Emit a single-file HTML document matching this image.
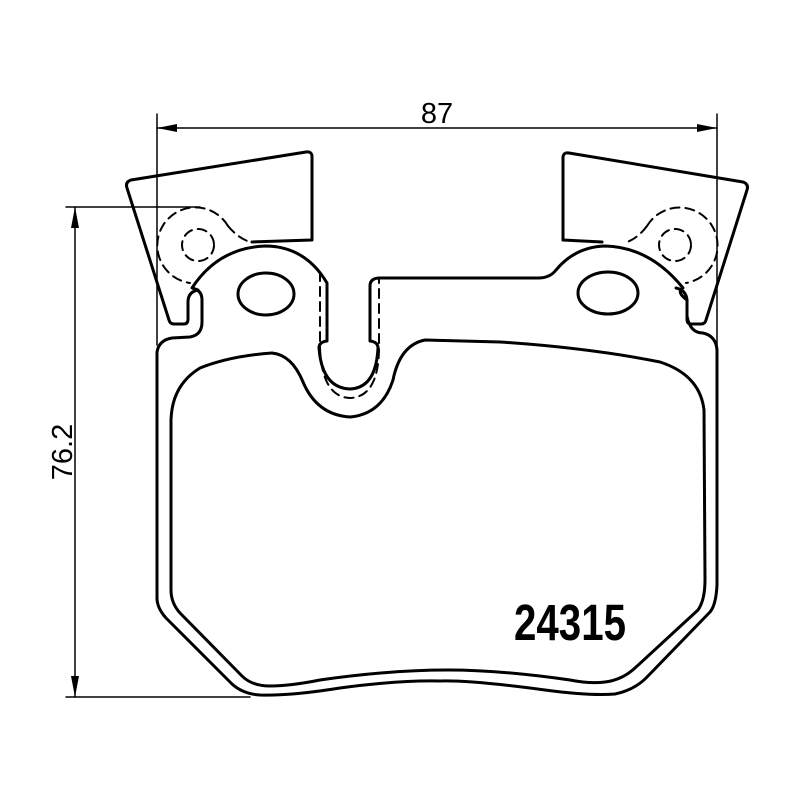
<!DOCTYPE html>
<html><head><meta charset="utf-8"><style>
html,body{margin:0;padding:0;background:#fff;}
svg{display:block;}
</style></head><body>
<svg width="800" height="800" viewBox="0 0 800 800" xmlns="http://www.w3.org/2000/svg">
<g fill="none" stroke="#000" stroke-linecap="round" stroke-linejoin="round">
<!-- dimension lines -->
<g stroke-width="1.5">
<line x1="157" y1="114" x2="157" y2="345"/>
<line x1="717" y1="114" x2="717" y2="345"/>
<line x1="157" y1="128" x2="717" y2="128"/>
<line x1="66" y1="207" x2="200" y2="207"/>
<line x1="66" y1="697" x2="250" y2="697"/>
<line x1="75" y1="207" x2="75" y2="697"/>
</g>
<!-- left tab -->
<path stroke-width="3" d="M312,240 L252,242 M312,240 L312,157 Q312,151 306,152 L131,180 Q125,182 127,188 L169,320 Q170,324 174,324 L184,324 Q188,324 188,319 L188,302 Q188,292 198,290"/>
<!-- right tab -->
<path stroke-width="3" d="M563,240 L602,242 M563,240 L563,158 Q563,152 569,153 L743,182 Q749,184 747,190 L706,320 Q705,324 701,324 L691,324 Q687,324 687,319 L687,300 Q686,290 676,288"/>
<!-- backing plate outer -->
<path stroke-width="3" d="M157,600 L157,352 Q159,340 172,338 L190,337 Q202,335 202,322 L202,300 Q202,290 192,288
 Q218,248 265,246 Q305,246 327,283 L327,341 Q319,342 319,348 Q322,388 350,389 Q376,388 378,348 Q378,342 370,341 L370,286 Q370,278 380,278 L538,278 Q550,278 556,270 Q575,247 605,246 Q650,247 683,288
 Q676,292 687,300 L687,316 Q690,333 703,333 Q716,336 717,350 L717,585 Q716,605 710,612 L648,676 Q635,690 615,694 Q590,696 545,690 Q470,680 440,681 Q400,680 340,688 Q290,696 260,695 Q243,694 232,684 L166,618 Q157,608 157,598 Z"/>
<!-- friction inner -->
<path stroke-width="3" d="M171,420 Q172,385 200,368 Q230,356 272,353 Q292,355 303,382 Q317,415 350,417 Q382,414 393,380 Q400,345 425,340 L500,342 Q590,348 660,362 Q700,375 704,410 L705,580 Q705,600 698,610 L635,668 Q622,680 605,682 Q590,684 570,680 Q500,670 448,670 Q390,670 320,680 Q290,686 270,686 Q252,686 242,676 L180,613 Q171,603 171,590 Z"/>
<!-- holes -->
<ellipse stroke-width="3" cx="266" cy="294" rx="28" ry="21"/>
<ellipse stroke-width="3" cx="608" cy="293" rx="30" ry="21"/>
<!-- dashed -->
<g stroke-width="2" stroke-dasharray="9,6">
<path d="M228,226 A38,38 0 1 0 190,283"/>
<path d="M228,226 Q238,238 250,242"/>
<circle cx="198" cy="245" r="16"/>
<path d="M647,226 A38,38 0 1 1 686,283"/>
<path d="M647,226 Q638,238 627,242"/>
<circle cx="675" cy="245" r="16"/>
<path d="M320,272 L320,348 Q322,397 350,398 Q378,397 379,350 L379,280"/>
</g>
</g>
<!-- arrowheads -->
<g fill="#000">
<polygon points="157,128 177,124 177,132"/>
<polygon points="717,128 697,124 697,132"/>
<polygon points="75,207 71,228 79,228"/>
<polygon points="75,697 71,676 79,676"/>
</g>
<text x="437" y="123" font-family="Liberation Sans, sans-serif" font-size="29" text-anchor="middle">87</text>
<text transform="translate(72,452) rotate(-90)" font-family="Liberation Sans, sans-serif" font-size="29" text-anchor="middle">76.2</text>
<text transform="translate(570,640) scale(0.79,1)" font-family="Liberation Sans, sans-serif" font-weight="bold" font-size="51" text-anchor="middle">24315</text>
</svg>
</body></html>
